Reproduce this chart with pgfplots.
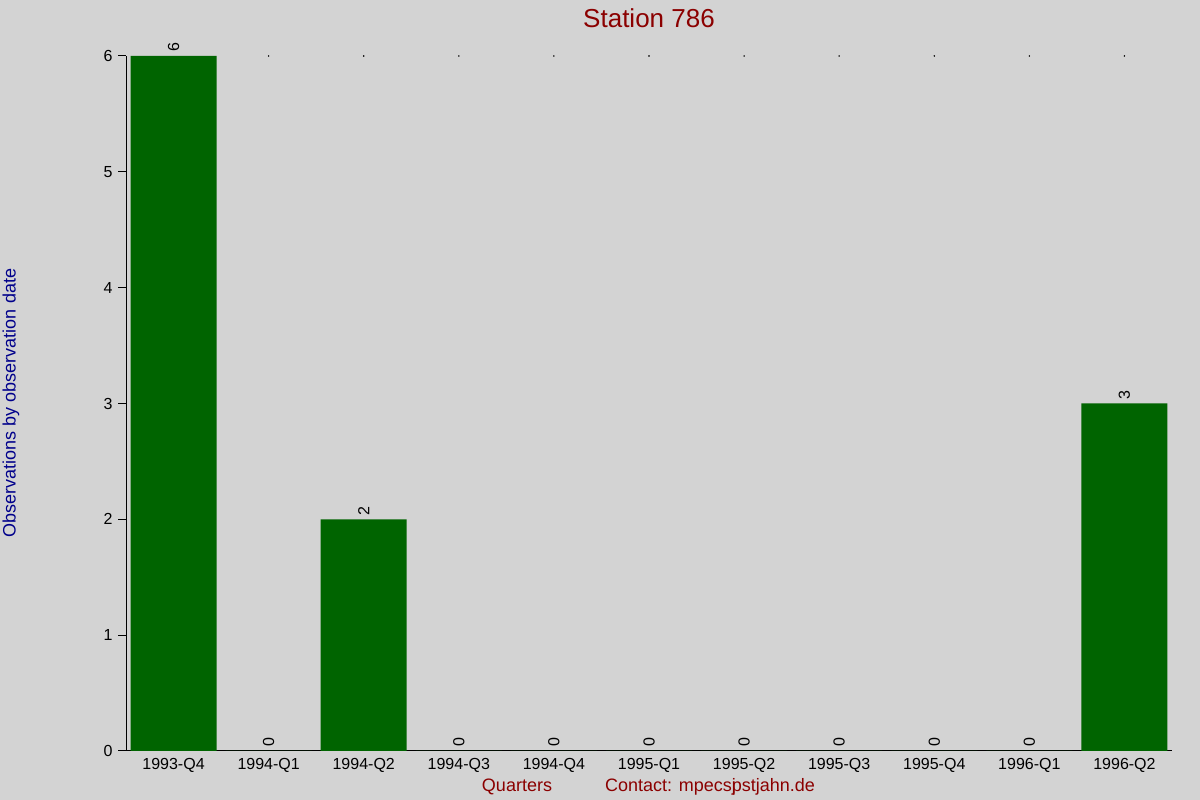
\documentclass[border=0pt]{standalone}
\usepackage{pgfplots}
\pgfplotsset{compat=1.18}
\usepackage{fontspec}
\setmainfont{Liberation Sans}

\definecolor{bgcol}{HTML}{D3D3D3}
\definecolor{barcol}{HTML}{006400}
\definecolor{titlecol}{HTML}{8B0000}
\definecolor{ylabcol}{HTML}{00008B}

\begin{document}
\begin{tikzpicture}
  \useasboundingbox[fill=bgcol] (0,0) rectangle (1200bp,800bp);

  \begin{axis}[
      at={(126bp,49bp)}, anchor=south west,
      scale only axis,
      width=1046bp, height=695bp,
      xmin=-0.5, xmax=10.5,
      ymin=0, ymax=6,
      axis x line=bottom, axis y line=left,
      axis line style={-, black, line width=1bp},
      xtick=data,
      xticklabels={1993-Q4,1994-Q1,1994-Q2,1994-Q3,1994-Q4,1995-Q1,1995-Q2,1995-Q3,1995-Q4,1996-Q1,1996-Q2},
      ytick={0,1,2,3,4,5,6},
      x tick style={draw=none},
      y tick style={black, line width=1bp},
      tick align=outside,
      major tick length=8bp,
      /pgf/number format/assume math mode=true,
      tick label style={font=\fontsize{16bp}{19bp}\selectfont, black},
      xticklabel style={yshift=4bp},
      yticklabel style={xshift=-2bp},
      clip=false,
    ]
    \addplot[ybar, bar width=86bp, bar shift=0pt, fill=barcol, draw=none,
      nodes near coords,
      every node near coord/.append style={rotate=90, anchor=west,
        font=\fontsize{16bp}{19bp}\selectfont, black, inner sep=4bp}]
      coordinates {
        (0,6) (1,0) (2,2) (3,0) (4,0) (5,0) (6,0) (7,0) (8,0) (9,0) (10,3)
      };
    \addplot[only marks, mark=*, mark size=0.5bp, black]
      coordinates {
        (1,6) (2,6) (3,6) (4,6) (5,6) (6,6) (7,6) (8,6) (9,6) (10,6)
      };
  \end{axis}

  \node[text=titlecol, font=\fontsize{26bp}{30bp}\selectfont] at (649bp,782bp) {Station 786};
  \node[text=ylabcol, rotate=90, font=\fontsize{18bp}{21bp}\selectfont] at (11bp,397bp) {Observations by observation date};
  \node[text=titlecol, font=\fontsize{18bp}{21bp}\selectfont] at (517bp,13bp) {Quarters};
  \node[text=titlecol, font=\fontsize{18bp}{21bp}\selectfont] at (710bp,13bp) {Contact: mpecs\rlap{j}pstjahn.de};
\end{tikzpicture}
\end{document}
